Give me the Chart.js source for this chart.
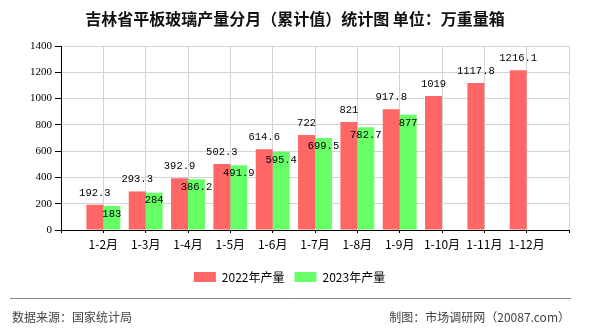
<!DOCTYPE html>
<html>
<head>
<meta charset="utf-8">
<script src="https://cdn.jsdelivr.net/npm/chart.js@4.4.0/dist/chart.umd.min.js"></script>
<style>
  html, body { margin: 0; padding: 0; background: #fff; }
</style>
</head>
<body>
<canvas id="chart" width="590" height="330"></canvas>
<script>
const categories = ['1-2月', '1-3月', '1-4月', '1-5月', '1-6月', '1-7月', '1-8月', '1-9月', '1-10月', '1-11月', '1-12月'];
const output2022 = [192.3, 293.3, 392.9, 502.3, 614.6, 722, 821, 917.8, 1019, 1117.8, 1216.1];
const output2023 = [183, 284, 386.2, 491.9, 595.4, 699.5, 782.7, 877, null, null, null];
const seriesNames = ['2022年产量', '2023年产量'];
const yTicks = [0, 200, 400, 600, 800, 1000, 1200, 1400];

const titleText = '吉林省平板玻璃产量分月（累计值）统计图 单位：万重量箱';
const sourceText = '数据来源：国家统计局';
const creditText = '制图：市场调研网（20087.com）';

// one empty slot each side so the gridlines sit on the categories
const labels = ['', ...categories, ''];
const pad = arr => [null, ...arr, null];

const cjk = "'Noto Sans CJK SC', sans-serif";

const extras = {
  id: 'extras',
  beforeDraw(chart) {
    const ctx = chart.ctx;
    ctx.save();
    ctx.fillStyle = '#fff';
    ctx.fillRect(0, 0, chart.width, chart.height);
    ctx.restore();
  },
  afterDatasetsDraw(chart) {
    const ctx = chart.ctx;
    ctx.save();
    ctx.font = "10.5px 'Liberation Mono', monospace";
    ctx.fillStyle = '#000';
    ctx.textAlign = 'center';
    ctx.textBaseline = 'middle';
    chart.data.datasets.forEach((ds, i) => {
      chart.getDatasetMeta(i).data.forEach((bar, j) => {
        const v = ds.data[j];
        if (v === null || v === undefined) return;
        const y = i === 0 ? bar.y - 12 : bar.y + 8;
        ctx.fillText(String(v), bar.x, y);
      });
    });
    ctx.restore();
  },
  afterDraw(chart) {
    const ctx = chart.ctx;
    ctx.save();
    ctx.fillStyle = '#111';
    ctx.font = 'bold 16px ' + cjk;
    ctx.textAlign = 'center';
    ctx.textBaseline = 'middle';
    ctx.fillText(titleText, 295, 19);

    ctx.strokeStyle = '#888';
    ctx.lineWidth = 1;
    ctx.beginPath();
    ctx.moveTo(10, 298.5);
    ctx.lineTo(571, 298.5);
    ctx.stroke();

    ctx.fillStyle = '#444';
    ctx.font = '12px ' + cjk;
    ctx.textAlign = 'left';
    ctx.fillText(sourceText, 12, 317);
    ctx.textAlign = 'right';
    ctx.fillText(creditText, 570, 317);
    ctx.restore();
  }
};

new Chart(document.getElementById('chart'), {
  type: 'bar',
  data: {
    labels: labels,
    datasets: [
      { label: seriesNames[0], data: pad(output2022), backgroundColor: '#ff6666' },
      { label: seriesNames[1], data: pad(output2023), backgroundColor: '#66ff66' }
    ]
  },
  options: {
    responsive: false,
    animation: false,
    devicePixelRatio: 1,
    categoryPercentage: 0.8,
    barPercentage: 1.0,
    layout: { padding: { top: 46, right: 21, bottom: 37, left: 10 } },
    plugins: {
      title: { display: false },
      tooltip: { enabled: false },
      legend: {
        position: 'bottom',
        labels: {
          boxWidth: 22,
          boxHeight: 10,
          padding: 10,
          color: '#000',
          font: { size: 12, family: cjk }
        }
      }
    },
    scales: {
      x: {
        offset: false,
        grid: { offset: false, color: '#d3d3d3', tickColor: '#000', tickLength: 3 },
        border: { color: '#000' },
        ticks: {
          autoSkip: false,
          maxRotation: 0,
          padding: 4,
          color: '#000',
          font: { size: 12, family: cjk }
        },
        afterFit: s => { s.height = 31; }
      },
      y: {
        min: 0,
        max: 1400,
        afterBuildTicks: s => { s.ticks = yTicks.map(v => ({ value: v })); },
        grid: { color: '#d3d3d3', tickColor: '#000', tickLength: 6 },
        border: { color: '#000' },
        ticks: {
          padding: 3,
          color: '#000',
          font: { size: 11, family: "'Liberation Serif', serif" },
          callback: v => String(v)
        },
        afterFit: s => { s.width = 51; }
      }
    }
  },
  plugins: [extras]
});
</script>
</body>
</html>
